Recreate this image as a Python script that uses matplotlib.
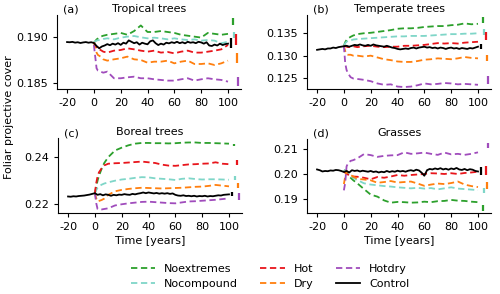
import numpy as np
import matplotlib
matplotlib.use("Agg")
import matplotlib.pyplot as plt

plt.rcParams['font.family'] = ['DejaVu Sans']
plt.rcParams['font.size'] = 8

# ---------------- data ----------------
t_ctrl = list(range(-20, 101, 2))
t_scen = [0, 1, 2, 3, 5, 7, 10] + list(range(15, 101, 5))

series_names = ["Noextremes", "Nocompound", "Hot", "Dry", "Hotdry"]
series_colors = ["#2ca02c", "#7fd6c8", "#e8151b", "#ff7f0e", "#a04cbc"]

titles = ["Tropical trees", "Temperate trees", "Boreal trees", "Grasses"]
panel_labels = ["(a)", "(b)", "(c)", "(d)"]

# Panel (a) Tropical trees
ctrl_a = [0.18942, 0.18940, 0.18944, 0.18936, 0.18940, 0.18932, 0.18938, 0.18942, 0.18935, 0.18940,
          0.18932, 0.18900, 0.18875, 0.18895, 0.18905, 0.18920, 0.18908, 0.18925, 0.18915, 0.18930,
          0.18912, 0.18935, 0.18925, 0.18960, 0.18945, 0.18930, 0.18940, 0.18915, 0.18935, 0.18925,
          0.18918, 0.18950, 0.18960, 0.18930, 0.18910, 0.18925, 0.18915, 0.18935, 0.18928, 0.18940,
          0.18932, 0.18945, 0.18930, 0.18940, 0.18928, 0.18945, 0.18935, 0.18940, 0.18930, 0.18945,
          0.18938, 0.18925, 0.18940, 0.18905, 0.18900, 0.18915, 0.18905, 0.18925, 0.18910, 0.18920,
          0.18925]
noext_a = [0.18935, 0.1895, 0.1897, 0.1898, 0.1900, 0.1901, 0.1902, 0.1903, 0.1904, 0.1902, 0.1906,
           0.1912, 0.1905, 0.1905, 0.1906, 0.1905, 0.1904, 0.1902, 0.1901, 0.1900, 0.1899, 0.1904,
           0.1903, 0.1902, 0.1903]
nocomp_a = [0.18940, 0.18950, 0.18958, 0.18962, 0.18964, 0.18975, 0.18982, 0.18971, 0.18989, 0.19000,
            0.19007, 0.18993, 0.18982, 0.18989, 0.18982, 0.18971, 0.18982, 0.18971, 0.18964, 0.18971,
            0.18957, 0.18964, 0.18957, 0.18929, 0.18946]
hot_a = [0.18939, 0.18911, 0.18886, 0.18864, 0.18857, 0.18839, 0.18829, 0.18850, 0.18857, 0.18875,
         0.18864, 0.18850, 0.18839, 0.18850, 0.18829, 0.18836, 0.18821, 0.18839, 0.18850, 0.18829,
         0.18829, 0.18839, 0.18850, 0.18864, 0.18911]
dry_a = [0.18939, 0.18875, 0.18829, 0.18804, 0.18786, 0.18757, 0.18743, 0.18757, 0.18768, 0.18786,
         0.18757, 0.18750, 0.18721, 0.18732, 0.18732, 0.18743, 0.18714, 0.18732, 0.18743, 0.18707,
         0.18707, 0.18714, 0.18696, 0.18714, 0.18743]
hotdry_a = [0.18911, 0.18786, 0.18661, 0.18636, 0.18625, 0.18614, 0.18625, 0.18554, 0.18554, 0.18564,
            0.18571, 0.18554, 0.18554, 0.18543, 0.18536, 0.18529, 0.18529, 0.18543, 0.18554, 0.18529,
            0.18543, 0.18554, 0.18543, 0.18536, 0.18518]

# Panel (b) Temperate trees
ctrl_b = [0.1313, 0.1314, 0.1315, 0.1314, 0.1316, 0.1316, 0.1318, 0.1317, 0.1319, 0.1320,
          0.1321, 0.1322, 0.1320, 0.1322, 0.1324, 0.1323, 0.1325, 0.1323, 0.1322, 0.1324,
          0.1322, 0.1325, 0.1323, 0.1322, 0.1321, 0.1320, 0.1322, 0.1320, 0.1318, 0.1317,
          0.1315, 0.1314, 0.1315, 0.1316, 0.1315, 0.1317, 0.1318, 0.1316, 0.1318, 0.1319,
          0.1320, 0.1318, 0.1319, 0.1317, 0.1318, 0.1316, 0.1318, 0.1317, 0.1315, 0.1317,
          0.1318, 0.1316, 0.1317, 0.1315, 0.1317, 0.1316, 0.1315, 0.1317, 0.1316, 0.1318,
          0.1320]
noext_b = [0.1322, 0.1330, 0.1335, 0.1338, 0.1342, 0.1345, 0.1348, 0.1350, 0.1351, 0.1353, 0.1355,
           0.1357, 0.1360, 0.1361, 0.1361, 0.1362, 0.1364, 0.1365, 0.1366, 0.1366, 0.1368, 0.1369,
           0.1372, 0.1370, 0.1371]
nocomp_b = [0.1322, 0.1328, 0.1331, 0.1333, 0.1334, 0.1336, 0.1337, 0.1338, 0.1339, 0.1340, 0.1341,
            0.1342, 0.1343, 0.1343, 0.1344, 0.1344, 0.1344, 0.1345, 0.1346, 0.1347, 0.1348, 0.1348,
            0.1349, 0.1349, 0.1350]
hot_b = [0.1322, 0.1321, 0.1320, 0.1319, 0.1320, 0.1321, 0.1319, 0.1321, 0.1322, 0.1320, 0.1319,
         0.1320, 0.1320, 0.1322, 0.1322, 0.1323, 0.1324, 0.1326, 0.1328, 0.1327, 0.1328, 0.1327,
         0.1329, 0.1330, 0.1331]
dry_b = [0.1322, 0.1310, 0.1303, 0.1302, 0.1302, 0.1300, 0.1300, 0.1298, 0.1300, 0.1296, 0.1292,
         0.1290, 0.1287, 0.1286, 0.1286, 0.1288, 0.1291, 0.1292, 0.1294, 0.1293, 0.1292, 0.1294,
         0.1297, 0.1295, 0.1294]
hotdry_b = [0.1322, 0.1283, 0.1268, 0.1261, 0.1252, 0.1249, 0.1248, 0.1246, 0.1243, 0.1238, 0.1235,
            0.1236, 0.1231, 0.1230, 0.1231, 0.1234, 0.1238, 0.1236, 0.1237, 0.1239, 0.1238, 0.1236,
            0.1237, 0.1236, 0.1235]

# Panel (c) Boreal trees
ctrl_c = [0.2233, 0.2232, 0.2234, 0.2233, 0.2235, 0.2236, 0.2237, 0.2239, 0.2241, 0.2244,
          0.2247, 0.2240, 0.2243, 0.2238, 0.2242, 0.2240, 0.2236, 0.2240, 0.2238, 0.2241,
          0.2240, 0.2243, 0.2241, 0.2240, 0.2244, 0.2242, 0.2245, 0.2247, 0.2250, 0.2247,
          0.2250, 0.2248, 0.2246, 0.2248, 0.2245, 0.2247, 0.2245, 0.2247, 0.2244, 0.2246,
          0.2240, 0.2237, 0.2236, 0.2238, 0.2235, 0.2236, 0.2234, 0.2236, 0.2233, 0.2235,
          0.2234, 0.2236, 0.2233, 0.2235, 0.2234, 0.2236, 0.2238, 0.2237, 0.2240, 0.2241,
          0.2242]
noext_c = [0.2247, 0.2275, 0.2300, 0.2320, 0.2350, 0.2375, 0.2400, 0.2428, 0.2440, 0.2450, 0.2457,
           0.2460, 0.2460, 0.2459, 0.2459, 0.2458, 0.2459, 0.2461, 0.2462, 0.2462, 0.2460, 0.2460,
           0.2459, 0.2458, 0.2457]
nocomp_c = [0.2247, 0.2260, 0.2270, 0.2276, 0.2283, 0.2288, 0.2293, 0.2300, 0.2305, 0.2308, 0.2312,
            0.2315, 0.2314, 0.2310, 0.2308, 0.2306, 0.2303, 0.2308, 0.2310, 0.2307, 0.2305, 0.2306,
            0.2306, 0.2305, 0.2304]
hot_c = [0.2247, 0.2290, 0.2318, 0.2335, 0.2352, 0.2365, 0.2372, 0.2374, 0.2375, 0.2377, 0.2379,
         0.2381, 0.2378, 0.2375, 0.2368, 0.2364, 0.2363, 0.2366, 0.2369, 0.2370, 0.2372, 0.2373,
         0.2378, 0.2372, 0.2370]
dry_c = [0.2247, 0.2225, 0.2212, 0.2214, 0.2218, 0.2224, 0.2240, 0.2255, 0.2261, 0.2265, 0.2268,
         0.2270, 0.2269, 0.2268, 0.2267, 0.2268, 0.2269, 0.2270, 0.2272, 0.2274, 0.2275, 0.2278,
         0.2282, 0.2279, 0.2276]
hotdry_c = [0.2247, 0.2205, 0.2180, 0.2178, 0.2178, 0.2180, 0.2183, 0.2195, 0.2200, 0.2204, 0.2207,
            0.2210, 0.2211, 0.2209, 0.2207, 0.2205, 0.2204, 0.2208, 0.2212, 0.2213, 0.2215, 0.2217,
            0.2219, 0.2222, 0.2225]

# Panel (d) Grasses
ctrl_d = [0.2018, 0.2015, 0.2010, 0.2012, 0.2011, 0.2014, 0.2013, 0.2016, 0.2015, 0.2012,
          0.2008, 0.2012, 0.2006, 0.2015, 0.2012, 0.2014, 0.2010, 0.2013, 0.2011, 0.2009,
          0.2012, 0.2008, 0.2010, 0.2006, 0.2009, 0.2007, 0.2012, 0.2008, 0.2011, 0.2009,
          0.2013, 0.2010, 0.2012, 0.2009, 0.2013, 0.2015, 0.2012, 0.2017, 0.2014, 0.2005,
          0.1993, 0.2015, 0.2020, 0.2018, 0.2022, 0.2019, 0.2023, 0.2018, 0.2021, 0.2017,
          0.2022, 0.2019, 0.2024, 0.2018, 0.2016, 0.2020, 0.2015, 0.2019, 0.2017, 0.2012,
          0.2010]
noext_d = [0.2016, 0.2012, 0.2005, 0.1998, 0.1985, 0.1975, 0.1963, 0.1940, 0.1918, 0.1910, 0.1895,
           0.1886, 0.1889, 0.1888, 0.1886, 0.1887, 0.1890, 0.1888, 0.1892, 0.1893, 0.1897, 0.1894,
           0.1893, 0.1890, 0.1888]
nocomp_d = [0.2015, 0.2014, 0.2010, 0.2005, 0.1995, 0.1985, 0.1976, 0.1963, 0.1958, 0.1955, 0.1952,
            0.1950, 0.1947, 0.1945, 0.1943, 0.1945, 0.1942, 0.1944, 0.1939, 0.1943, 0.1947, 0.1942,
            0.1940, 0.1938, 0.1936]
hot_d = [0.2010, 0.2005, 0.2000, 0.1998, 0.1992, 0.1990, 0.1989, 0.1985, 0.1979, 0.1988, 0.1985,
         0.1990, 0.1996, 0.1993, 0.1996, 0.1998, 0.2000, 0.2003, 0.2002, 0.2000, 0.2003, 0.2000,
         0.2004, 0.2006, 0.2009]
dry_d = [0.1960, 0.1990, 0.2012, 0.2005, 0.1996, 0.1990, 0.1981, 0.1978, 0.1975, 0.1965, 0.1968,
         0.1972, 0.1966, 0.1968, 0.1970, 0.1962, 0.1953, 0.1958, 0.1962, 0.1960, 0.1964, 0.1970,
         0.1958, 0.1952, 0.1948]
hotdry_d = [0.1935, 0.1965, 0.2030, 0.2042, 0.2052, 0.2055, 0.2062, 0.2079, 0.2075, 0.2068, 0.2072,
            0.2074, 0.2075, 0.2086, 0.2080, 0.2082, 0.2085, 0.2080, 0.2076, 0.2085, 0.2078, 0.2080,
            0.2076, 0.2080, 0.2086]

# Range bars at right, order: Control, Noextremes, Nocompound, Hot, Dry, Hotdry
bar_x = [102, 103.5, 104.5, 105.6, 106.5, 107.6]
bar_lo_a = [0.18875, 0.19125, 0.18982, 0.18911, 0.18714, 0.18471]
bar_hi_a = [0.18982, 0.19196, 0.19054, 0.19029, 0.18821, 0.18571]
bar_lo_b = [0.13144, 0.13737, 0.13463, 0.13352, 0.1287, 0.12374]
bar_hi_b = [0.13263, 0.13856, 0.13589, 0.13537, 0.1302, 0.12537]
bar_lo_c = [0.2233, 0.2448, 0.2301, 0.2367, 0.2268, 0.2218]
bar_hi_c = [0.2250, 0.2457, 0.2318, 0.2389, 0.2289, 0.2247]
bar_lo_d = [0.1996, 0.1854, 0.1923, 0.1996, 0.1939, 0.2102]
bar_hi_d = [0.2029, 0.1877, 0.1943, 0.2032, 0.1970, 0.2125]

yticks_a = [0.185, 0.190]
yticks_b = [0.125, 0.130, 0.135]
yticks_c = [0.22, 0.24]
yticks_d = [0.19, 0.20, 0.21]
xticks = [-20, 0, 20, 40, 60, 80, 100]

panels = [
    (ctrl_a, [noext_a, nocomp_a, hot_a, dry_a, hotdry_a], bar_lo_a, bar_hi_a, yticks_a, "{:.3f}", (0.18439, 0.19232)),
    (ctrl_b, [noext_b, nocomp_b, hot_b, dry_b, hotdry_b], bar_lo_b, bar_hi_b, yticks_b, "{:.3f}", (0.12256, 0.13907)),
    (ctrl_c, [noext_c, nocomp_c, hot_c, dry_c, hotdry_c], bar_lo_c, bar_hi_c, yticks_c, "{:.2f}", (0.2163, 0.2481)),
    (ctrl_d, [noext_d, nocomp_d, hot_d, dry_d, hotdry_d], bar_lo_d, bar_hi_d, yticks_d, "{:.2f}", (0.1845, 0.2139)),
]

W, H = 500, 294
fig = plt.figure(figsize=(W / 100, H / 100), dpi=100)
rects = [(57, 15, 184, 74), (307, 15, 184, 74), (58, 138, 184, 75), (307, 139, 184, 74)]

lines_for_legend = None
for i, (ctrl, scen, blo, bhi, yt, fmt, ylim) in enumerate(panels):
    x0, y0, w, h = rects[i]
    ax = fig.add_axes([x0 / W, 1 - (y0 + h) / H, w / W, h / H])
    handles = []
    for s, name, col in zip(scen, series_names, series_colors):
        ln, = ax.plot(t_scen, s, color=col, lw=1.3, ls=(0, (3.5, 2)), label=name)
        handles.append(ln)
    lc, = ax.plot(t_ctrl, ctrl, color="black", lw=1.3, label="Control")
    handles.append(lc)
    bar_cols = ["black"] + series_colors
    for bx, lo, hi, c in zip(bar_x, blo, bhi, bar_cols):
        ax.plot([bx, bx], [lo, hi], color=c, lw=1.6, solid_capstyle="butt")
    ax.set_xlim(-27.5, 109.7)
    ax.set_ylim(*ylim)
    ax.set_xticks(xticks)
    ax.set_xticklabels([str(v) for v in xticks])
    ax.set_yticks(yt)
    ax.set_yticklabels([fmt.format(v) for v in yt])
    ax.spines["top"].set_visible(False)
    ax.spines["right"].set_visible(False)
    ax.tick_params(labelsize=8, length=3, width=0.8)
    ax.set_title(titles[i], fontsize=8, pad=2)
    ax.text(0.03, 1.0, panel_labels[i], transform=ax.transAxes, fontsize=8,
            ha="left", va="bottom")
    if i >= 2:
        ax.set_xlabel("Time [years]", fontsize=8, labelpad=3)
    if lines_for_legend is None:
        lines_for_legend = handles

fig.text(0.018, 0.6, "Foliar projective cover", rotation=90, ha="center", va="center", fontsize=8)

fig.legend(lines_for_legend, [l.get_label() for l in lines_for_legend], ncol=3,
           loc="upper center", bbox_to_anchor=(0.54, 0.135), frameon=False, fontsize=8,
           handlelength=2.2, columnspacing=2.0, handletextpad=0.8, labelspacing=0.45)

fig.savefig("out.png", dpi=100)
